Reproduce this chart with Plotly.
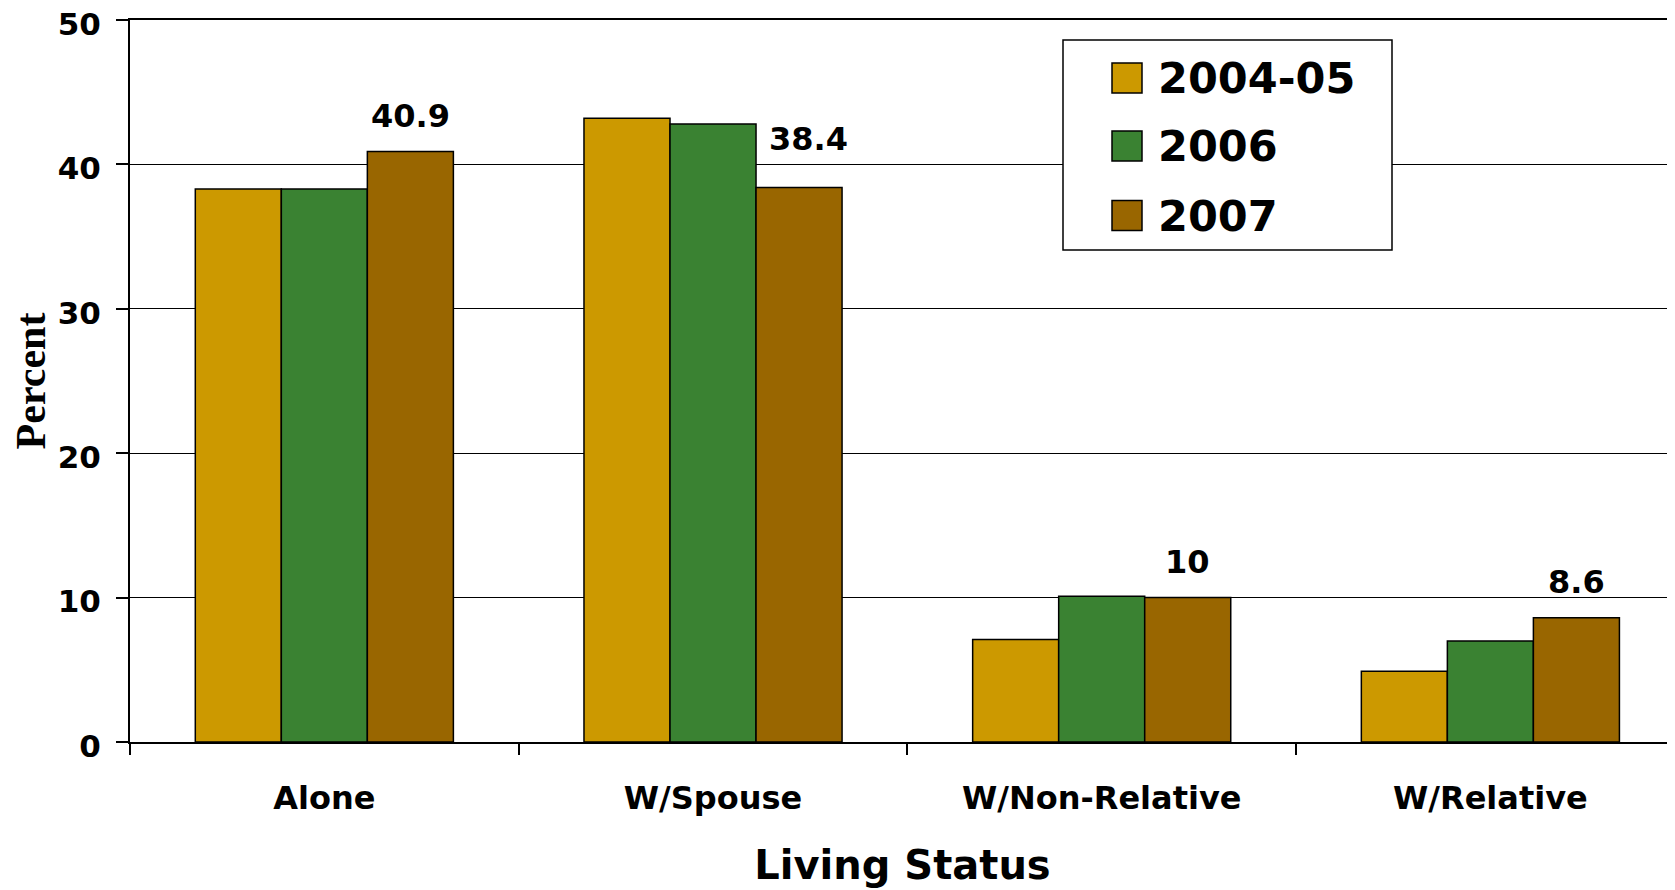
import plotly.graph_objects as go

categories = ["Alone", "W/Spouse", "W/Non-Relative", "W/Relative"]
series_names = ["2004-05", "2006", "2007"]
values_2004_05 = [38.3, 43.2, 7.1, 4.9]
values_2006 = [38.3, 42.8, 10.1, 7.0]
values_2007 = [40.9, 38.4, 10.0, 8.6]
labels_2007 = ["40.9", "38.4", "10", "8.6"]
colors = ["#CC9900", "#3A8232", "#996600"]

series_values = [values_2004_05, values_2006, values_2007]

OFF = 8  # default page body margin
W, H = 1667, 882
L, R, T, B = 122, 0, 12, 148
bargap = 0.336

fig = go.Figure()
for name, vals, col in zip(series_names, series_values, colors):
    fig.add_trace(go.Bar(
        x=categories, y=vals, name=name,
        marker=dict(color=col, line=dict(color="black", width=1.5)),
        showlegend=False,
    ))

FONT = "DejaVu Sans"

# data labels on 2007 series
bar_w = (1 - bargap) / 3
yshifts = [35, 49, 36, 36]
xshifts = [0, 9, 0, 0]
for i, (v, lab) in enumerate(zip(values_2007, labels_2007)):
    fig.add_annotation(
        x=i + bar_w, y=v, xref="x", yref="y", text=f"<b>{lab}</b>",
        showarrow=False, yshift=yshifts[i], xshift=xshifts[i],
        font=dict(family=FONT, size=32, color="black"),
    )

# custom legend (positions in screen pixels -> paper coords)
pw = W - L - R
ph = H - T - B
def px(x):
    return (x - OFF - L) / pw
def py(y):
    return 1 - (y - OFF - T) / ph

fig.add_shape(type="rect", xref="paper", yref="paper",
              x0=px(1063), x1=px(1392), y0=py(250), y1=py(40),
              fillcolor="white", line=dict(color="black", width=1.5), layer="above")
row_y = [78, 146, 215.5]
for name, col, ry in zip(series_names, colors, row_y):
    fig.add_shape(type="rect", xref="paper", yref="paper",
                  x0=px(1112), x1=px(1142), y0=py(ry + 15), y1=py(ry - 15),
                  fillcolor=col, line=dict(color="black", width=1.5), layer="above")
    fig.add_annotation(x=px(1156), y=py(ry), xref="paper", yref="paper",
                       text=f"<b>{name}</b>", showarrow=False, xanchor="left",
                       yanchor="middle",
                       font=dict(family=FONT, size=43, color="black"))

fig.update_layout(
    width=W, height=H,
    margin=dict(l=L, r=R, t=T, b=B, autoexpand=False),
    paper_bgcolor="white", plot_bgcolor="white",
    barmode="group", bargap=bargap, bargroupgap=0,
    xaxis=dict(
        range=[-0.5, 3.475], automargin=False,
        showline=True, linecolor="black", linewidth=2, mirror=True,
        ticks="outside", tickson="boundaries", ticklen=11, tickcolor="black", tickwidth=1.5,
        tickfont=dict(family=FONT, size=32, color="black", weight="bold"),
        ticklabelstandoff=27,
        title=dict(text="<b>Living Status</b>", font=dict(family=FONT, size=40, color="black"),
                   standoff=35),
        showgrid=False,
    ),
    yaxis=dict(
        range=[0, 50], tickvals=[0, 10, 20, 30, 40, 50], automargin=False,
        showline=True, linecolor="black", linewidth=2,
        ticks="outside", ticklen=12, tickcolor="black", tickwidth=1.5,
        tickfont=dict(family=FONT, size=31, color="black", weight="bold"),
        ticklabelstandoff=9, ticklabelshift=4, ticklabeloverflow="allow",
        showgrid=True, gridcolor="black", gridwidth=1.2,
        zeroline=False,
        title=dict(text="<b>Percent</b>", font=dict(family="Liberation Serif", size=42, color="black"),
                   standoff=2),
    ),
)

fig.write_html("out.html")
